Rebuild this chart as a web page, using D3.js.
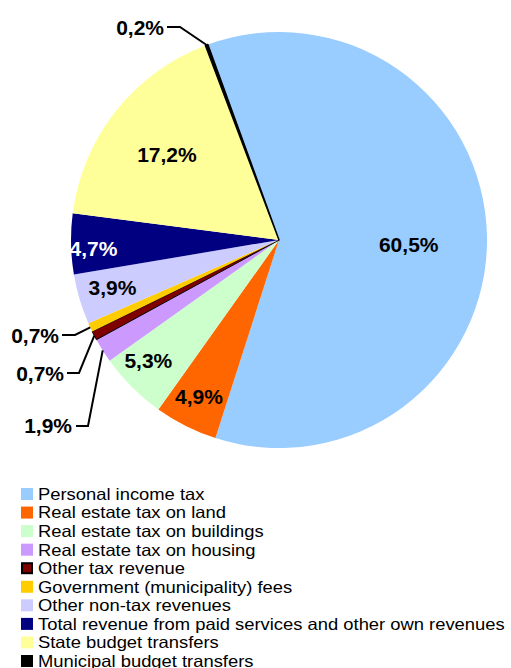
<!DOCTYPE html>
<html>
<head>
<meta charset="utf-8">
<script src="https://cdn.jsdelivr.net/npm/d3@7/dist/d3.min.js"></script>
<style>
html,body{margin:0;padding:0;background:#fff;}
svg{display:block;font-family:Arial,"Liberation Sans",sans-serif;}
</style>
</head>
<body>
<svg id="chart" width="511" height="668"></svg>
<script>
// ---- data ----
const categories = [
  "Personal income tax",
  "Real estate tax on land",
  "Real estate tax on buildings",
  "Real estate tax on housing",
  "Other tax revenue",
  "Government (municipality) fees",
  "Other non-tax revenues",
  "Total revenue from paid services and other own revenues",
  "State budget transfers",
  "Municipal budget transfers"
];
const values = [60.5, 4.9, 5.3, 1.9, 0.7, 0.7, 3.9, 4.7, 17.2, 0.2];
const labels = ["60,5%", "4,9%", "5,3%", "1,9%", "0,7%", "0,7%", "3,9%", "4,7%", "17,2%", "0,2%"];
const colors = ["#99CCFF", "#FF6600", "#CCFFCC", "#CC99FF", "#800000", "#FFCC00", "#CCCCFF", "#000080", "#FFFF99", "#000000"];

// ---- layout ----
const cx = 279, cy = 240, R = 208;
const startDeg = -20;
// inside label placement: [radius fraction, angle shift in degrees]; null = outside with leader
const labelPlace = [[0.624, 3.0], [0.846, 0.46], [0.855, 2.3], null, null, null, [0.833, 0.65], [0.893, -1.5], [0.676, -1.16], null];
const labelColor = ["#000", "#000", "#000", "#000", "#000", "#000", "#000", "#fff", "#000", "#000"];
// outside label: leader start, elbow, text anchor (end)
const outside = {
  3: {elbow: [88, 426], start: [76, 426], text: [72, 433]},
  4: {elbow: [79, 373], start: [67, 373], text: [64, 381]},
  5: {elbow: [75, 335], start: [62, 335], text: [59, 343]},
  9: {elbow: [180, 27], start: [167, 27], text: [164, 35]}
};
const labelFont = 21;

const svg = d3.select("#chart");
const g = svg.append("g").attr("transform", `translate(${cx},${cy})`);

const pie = d3.pie().sort(null).value(d => d)
  .startAngle(startDeg * Math.PI / 180)
  .endAngle((startDeg + 360) * Math.PI / 180);
const arcs = pie(values);
const arc = d3.arc().innerRadius(0).outerRadius(R);
const outlined = i => i === 4 || i === 9;

g.selectAll("path.slice").data(arcs).join("path")
  .attr("class", "slice")
  .attr("d", arc)
  .attr("fill", (d, i) => colors[i])
  .attr("stroke", (d, i) => outlined(i) ? "#000" : "none")
  .attr("stroke-width", (d, i) => i === 9 ? 1.5 : 1)
  .attr("stroke-linejoin", "round");

// inside labels
arcs.forEach((d, i) => {
  const p = labelPlace[i];
  if (p == null) return;
  const a = (d.startAngle + d.endAngle) / 2 + p[1] * Math.PI / 180;
  const r = R * p[0];
  g.append("text")
    .attr("x", r * Math.sin(a))
    .attr("y", -r * Math.cos(a))
    .attr("dy", "0.35em")
    .attr("text-anchor", "middle")
    .attr("font-size", labelFont)
    .attr("font-weight", "bold")
    .attr("fill", labelColor[i])
    .text(labels[i]);
});

// outside labels with leader lines
Object.keys(outside).forEach(k => {
  const i = +k, d = arcs[i], o = outside[k];
  const a = (d.startAngle + d.endAngle) / 2;
  const px = cx + R * Math.sin(a), py = cy - R * Math.cos(a);
  svg.append("polyline")
    .attr("points", `${o.start[0]},${o.start[1]} ${o.elbow[0]},${o.elbow[1]} ${px},${py}`)
    .attr("fill", "none").attr("stroke", "#000").attr("stroke-width", 2);
  svg.append("text")
    .attr("x", o.text[0]).attr("y", o.text[1])
    .attr("text-anchor", "end")
    .attr("font-size", labelFont).attr("font-weight", "bold")
    .attr("fill", "#000")
    .text(labels[i]);
});

// legend
const legY = d3.scaleLinear().domain([0, categories.length - 1]).range([494, 661]);
const leg = svg.append("g");
categories.forEach((c, i) => {
  const y = legY(i);
  const o = outlined(i);
  leg.append("rect")
    .attr("x", o ? 22 : 21).attr("y", y - 6 + (o ? 1 : 0))
    .attr("width", o ? 10 : 12).attr("height", o ? 10 : 12)
    .attr("fill", colors[i])
    .attr("stroke", o ? "#000" : "none")
    .attr("stroke-width", 2);
  leg.append("text")
    .attr("transform", `translate(38,${y}) scale(1.128,1)`)
    .attr("dy", "0.36em")
    .attr("font-size", 16.3)
    .attr("fill", "#000")
    .text(c);
});
</script>
</body>
</html>
